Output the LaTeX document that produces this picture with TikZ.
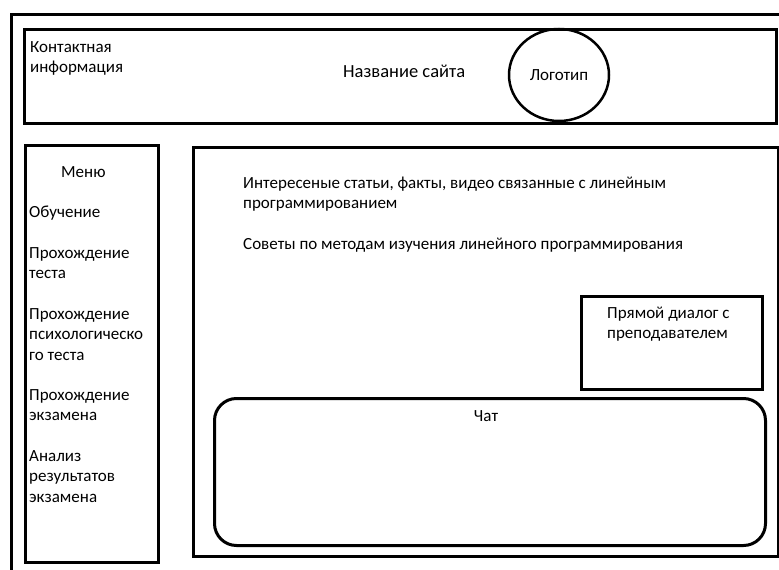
\documentclass[tikz,border=0pt]{standalone}
\usepackage{fontspec}
\setmainfont{Carlito}
\usetikzlibrary{positioning, shapes.geometric}

\begin{document}
\begin{tikzpicture}[x=1pt, y=-1pt,
		box/.style={rectangle, draw, line width=3pt, inner sep=0pt, anchor=north west},
		chatbox/.style={box, rounded corners=22pt},
		logo/.style={ellipse, draw, line width=2.5pt, inner sep=0pt, minimum width=100pt, minimum height=92pt},
		txt/.style={inner sep=0pt, anchor=base west, align=left, font=\fontsize{17}{20.5}\selectfont}
	]

	\useasboundingbox (0,0) rectangle (779,570);
	\clip (0,0) rectangle (779,570);

	% page frame, cut off at right and bottom
	\draw[line width=3pt] (11,600) |- (800,14);

	\node[box, minimum width=752pt, minimum height=94pt] (header) at (23,28) {};
	\node[box, minimum width=133pt, minimum height=417pt] (menu) at (24,144) {};
	\node[box, minimum width=585pt, minimum height=409pt] (content) at (192,146) {};
	\node[box, minimum width=181pt, minimum height=93pt] (dialog) at (580,295) {};
	\node[chatbox, minimum width=551pt, minimum height=147pt] (chat) at (213,397) {};
	\node[logo, font=\fontsize{17}{20.5}\selectfont] (logotip) at (559,75) {Логотип};

	% multi-line texts sit on the baseline of their last line
	\node[txt] (contact) at (30,72.5) {Контактная\\информация};
	\node[txt, font=\fontsize{18.5}{22}\selectfont] (sitename) at (343,77) {Название сайта};

	\node[txt] (menutitle) at (61,177) {Меню};
	\foreach \y/\t in {217/Обучение, 278.5/Прохождение\\теста, 360/Прохождение\\психологическо\\го теста, 420.5/Прохождение\\экзамена, 502/Анализ\\результатов\\экзамена}
		\node[txt] (item\y) at (29,\y) {\t};

	\node[txt] (articles) at (243,208.5) {Интересеные статьи, факты, видео связанные с линейным\\программированием};
	\node[txt] (advice) at (243,249) {Советы по методам изучения линейного программирования};
	\node[txt] (dialogtext) at (607,338.5) {Прямой диалог с\\преподавателем};
	\node[txt, anchor=base] (chattext) at (486,421) {Чат};

\end{tikzpicture}
\end{document}
